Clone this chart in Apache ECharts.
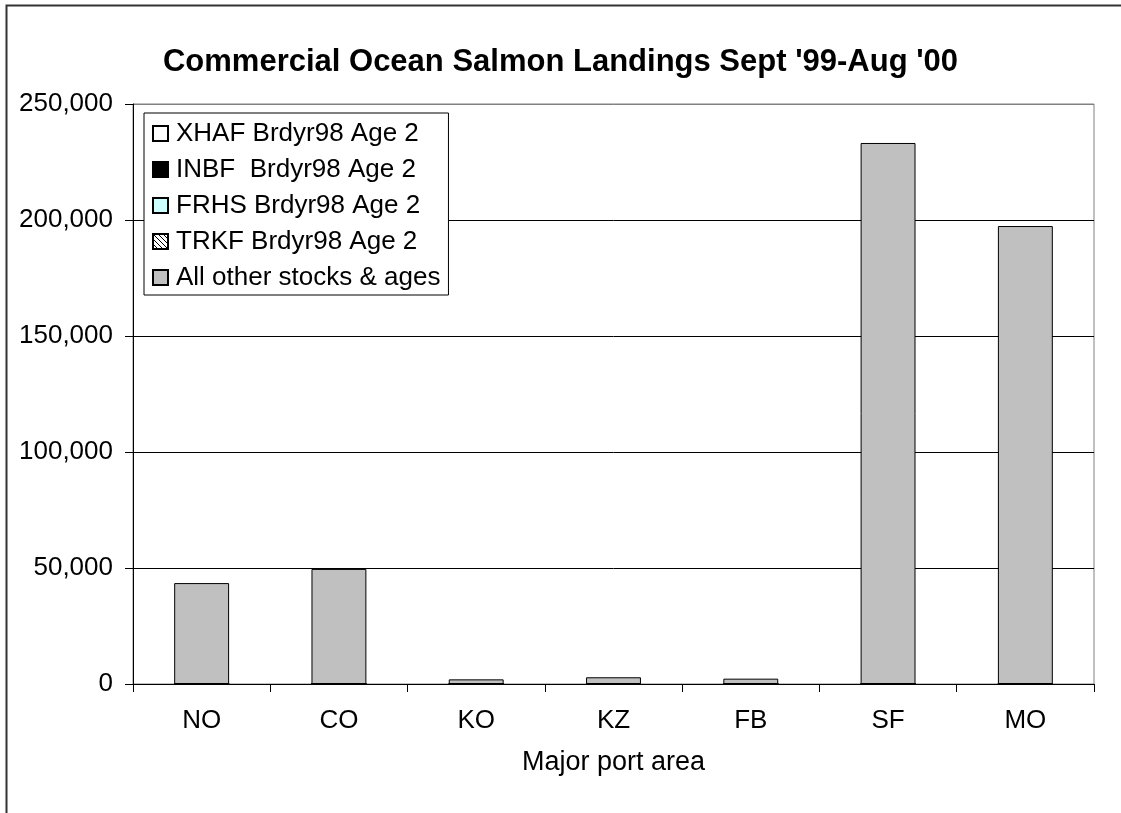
<!DOCTYPE html>
<html>
<head>
<meta charset="utf-8">
<script src="https://cdn.jsdelivr.net/npm/echarts@6/dist/echarts.min.js"></script>
<style>
  html, body { margin: 0; padding: 0; background: #fff; }
  #chart { width: 1121px; height: 813px; }
</style>
</head>
<body>
<div id="chart"></div>
<script>
// port areas on the x axis
const ports = ['NO', 'CO', 'KO', 'KZ', 'FB', 'SF', 'MO']
// stacked series
const xhafAge2 = [0, 0, 0, 0, 0, 0, 0]
const inbfAge2 = [0, 0, 0, 0, 0, 0, 0]
const frhsAge2 = [0, 0, 0, 0, 0, 0, 0]
const trkfAge2 = [0, 0, 0, 0, 0, 0, 0]
const allOther = [43500, 49600, 2000, 2900, 2300, 233200, 197400]
// y axis ticks
const yMin = 0
const yMax = 250000
const yStep = 50000

const font = "'Liberation Sans', Arial, sans-serif"

// hatch pattern for TRKF
const hatch = document.createElement('canvas')
hatch.width = 5
hatch.height = 5
const hc = hatch.getContext('2d')
hc.fillStyle = '#fff'
hc.fillRect(0, 0, 5, 5)
hc.strokeStyle = '#000'
hc.lineWidth = 1
hc.beginPath()
hc.moveTo(-1, -1); hc.lineTo(6, 6)
hc.moveTo(-1, 4); hc.lineTo(1, 6)
hc.moveTo(4, -1); hc.lineTo(6, 1)
hc.stroke()

const chart = echarts.init(document.getElementById('chart'))

function bar(name, data, color) {
  return {
    name: name,
    type: 'bar',
    stack: 'total',
    barWidth: '40%',
    data: data,
    itemStyle: { color: color, borderColor: '#000', borderWidth: 1 },
    emphasis: { disabled: true }
  }
}

const option = {
  animation: false,
  backgroundColor: '#fff',
  textStyle: { fontFamily: font },
  title: {
    text: "Commercial Ocean Salmon Landings Sept '99-Aug '00",
    left: 'center',
    top: 42,
    textStyle: { fontFamily: font, fontSize: 31, fontWeight: 'bold', color: '#000' }
  },
  graphic: [{
    type: 'rect',
    left: 4,
    top: 3,
    shape: { width: 1300, height: 1000 },
    style: { fill: 'none', stroke: '#333', lineWidth: 2 },
    silent: true
  }],
  legend: {
    orient: 'vertical',
    left: 144,
    top: 113,
    padding: [7, 8, 4, 8],
    itemGap: 9,
    itemWidth: 15,
    itemHeight: 15,
    borderColor: '#000',
    borderWidth: 1,
    backgroundColor: '#fff',
    selectedMode: false,
    icon: 'rect',
    textStyle: { fontFamily: font, fontSize: 26, color: '#000', lineHeight: 27, padding: [0, 0, 0, 3] },
    data: ['XHAF Brdyr98 Age 2', 'INBF  Brdyr98 Age 2', 'FRHS Brdyr98 Age 2', 'TRKF Brdyr98 Age 2', 'All other stocks & ages']
  },
  grid: {
    left: 133,
    right: 27,
    top: 104,
    bottom: 129,
    show: true,
    borderColor: '#808080',
    borderWidth: 1
  },
  xAxis: {
    type: 'category',
    data: ports,
    name: 'Major port area',
    nameLocation: 'middle',
    nameGap: 65,
    nameTextStyle: { fontFamily: font, fontSize: 27, color: '#000' },
    axisLine: { lineStyle: { color: '#000', width: 1 } },
    axisTick: { show: true, length: 8, lineStyle: { color: '#000' } },
    axisLabel: { fontFamily: font, fontSize: 26, color: '#000', margin: 24 }
  },
  yAxis: {
    type: 'value',
    min: yMin,
    max: yMax,
    interval: yStep,
    axisLine: { show: true, lineStyle: { color: '#000', width: 1 } },
    axisTick: { show: true, length: 8, lineStyle: { color: '#000' } },
    axisLabel: {
      fontFamily: font, fontSize: 26, color: '#000', margin: 20,
      formatter: v => v.toLocaleString('en-US')
    },
    splitLine: { show: true, lineStyle: { color: ['#000', '#000', '#000', '#000', '#000', '#808080'], width: 1 } }
  },
  series: [
    bar('XHAF Brdyr98 Age 2', xhafAge2, '#ffffff'),
    bar('INBF  Brdyr98 Age 2', inbfAge2, '#000000'),
    bar('FRHS Brdyr98 Age 2', frhsAge2, '#ccffff'),
    bar('TRKF Brdyr98 Age 2', trkfAge2, { image: hatch, repeat: 'repeat' }),
    bar('All other stocks & ages', allOther, '#c0c0c0')
  ]
}

chart.setOption(option)
window.addEventListener('resize', () => {
  chart.resize()
})
</script>
</body>
</html>
